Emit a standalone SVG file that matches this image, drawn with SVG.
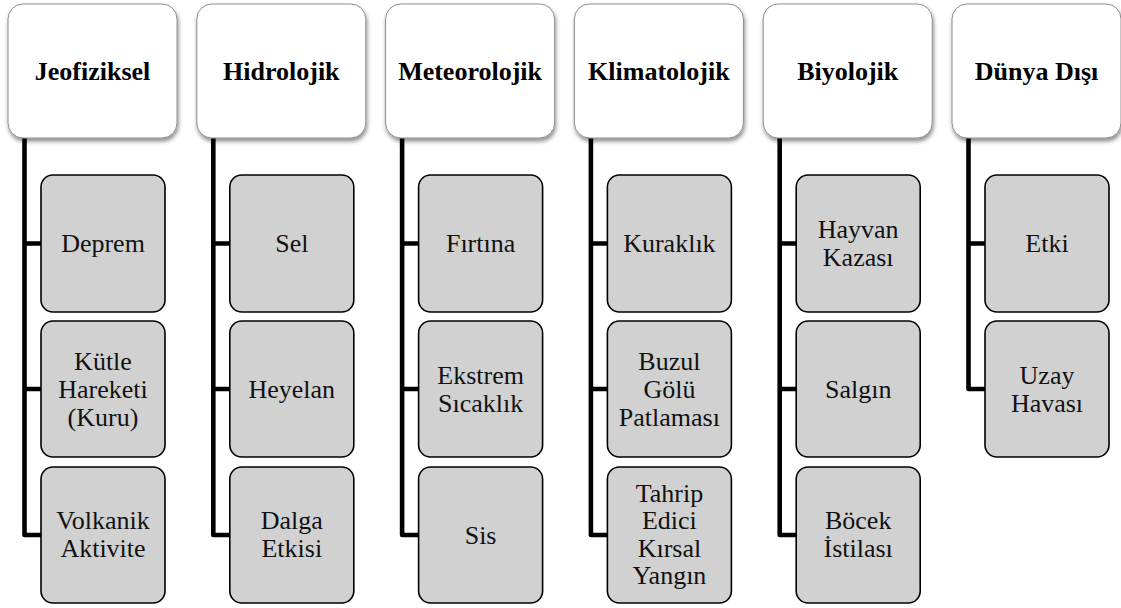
<svg xmlns="http://www.w3.org/2000/svg" width="1121" height="608" viewBox="0 0 1121 608">
<defs>
<filter id="sh" x="-10%" y="-10%" width="125%" height="125%">
<feDropShadow dx="1" dy="3" stdDeviation="2" flood-color="#000" flood-opacity="0.45"/>
</filter>
<style>
.top{fill:#fff;stroke:#8c8c8c;stroke-width:1;filter:url(#sh)}
.ch{fill:#d1d1d1;stroke:#000;stroke-width:1.6}
text{font-family:'Liberation Serif','Tinos','Times New Roman','Times','Nimbus Roman','FreeSerif','Noto Serif','DejaVu Serif',serif}
.tt{font-weight:bold;font-size:26px;text-anchor:middle;fill:#000}
.ct{font-size:26px;text-anchor:middle;fill:#111}
.ln{fill:none;stroke:#000;stroke-width:4.6;stroke-linejoin:round}
</style>
</defs>
<rect width="1121" height="608" fill="#fff"/>
<g id="connectors">
<path class="ln" d="M24.5 138 V535 H41 M24.5 243.5 H41 M24.5 389 H41"/>
<path class="ln" d="M213.3 138 V535 H229.8 M213.3 243.5 H229.8 M213.3 389 H229.8"/>
<path class="ln" d="M402.1 138 V535 H418.6 M402.1 243.5 H418.6 M402.1 389 H418.6"/>
<path class="ln" d="M590.9 138 V535 H607.4 M590.9 243.5 H607.4 M590.9 389 H607.4"/>
<path class="ln" d="M779.7 138 V535 H796.2 M779.7 243.5 H796.2 M779.7 389 H796.2"/>
<path class="ln" d="M968.5 138 V389 H985 M968.5 243.5 H985"/>
</g>
<g id="n-jeofiziksel"><rect class="top" x="8" y="4" width="169" height="134" rx="15"/><text class="tt" x="92.5" y="80" font-family="Liberation Serif">Jeofiziksel</text></g>
<g id="n-hidrolojik"><rect class="top" x="196.8" y="4" width="169" height="134" rx="15"/><text class="tt" x="281.3" y="80" font-family="Liberation Serif">Hidrolojik</text></g>
<g id="n-meteorolojik"><rect class="top" x="385.6" y="4" width="169" height="134" rx="15"/><text class="tt" x="470.1" y="80" font-family="Liberation Serif">Meteorolojik</text></g>
<g id="n-klimatolojik"><rect class="top" x="574.4" y="4" width="169" height="134" rx="15"/><text class="tt" x="658.9" y="80" font-family="Liberation Serif">Klimatolojik</text></g>
<g id="n-biyolojik"><rect class="top" x="763.2" y="4" width="169" height="134" rx="15"/><text class="tt" x="847.7" y="80" font-family="Liberation Serif">Biyolojik</text></g>
<g id="n-dunyadisi"><rect class="top" x="952" y="4" width="169" height="134" rx="15"/><text class="tt" x="1036.5" y="80" font-family="Liberation Serif">Dünya Dışı</text></g>

<g id="n-deprem"><rect class="ch" x="41" y="175" width="124" height="137" rx="12"/><text class="ct" x="103" y="252">Deprem</text></g>
<g id="n-kutle"><rect class="ch" x="41" y="321" width="124" height="136" rx="12"/><text class="ct"><tspan x="103" y="370">Kütle</tspan><tspan x="103" y="398">Hareketi</tspan><tspan x="103" y="426">(Kuru)</tspan></text></g>
<g id="n-volkanik"><rect class="ch" x="41" y="467" width="124" height="136" rx="12"/><text class="ct"><tspan x="103" y="529">Volkanik</tspan><tspan x="103" y="557">Aktivite</tspan></text></g>

<g id="n-sel"><rect class="ch" x="229.8" y="175" width="124" height="137" rx="12"/><text class="ct" x="291.8" y="252">Sel</text></g>
<g id="n-heyelan"><rect class="ch" x="229.8" y="321" width="124" height="136" rx="12"/><text class="ct" x="291.8" y="397.5">Heyelan</text></g>
<g id="n-dalga"><rect class="ch" x="229.8" y="467" width="124" height="136" rx="12"/><text class="ct"><tspan x="291.8" y="529">Dalga</tspan><tspan x="291.8" y="557">Etkisi</tspan></text></g>

<g id="n-firtina"><rect class="ch" x="418.6" y="175" width="124" height="137" rx="12"/><text class="ct" x="480.6" y="252">Fırtına</text></g>
<g id="n-ekstrem"><rect class="ch" x="418.6" y="321" width="124" height="136" rx="12"/><text class="ct"><tspan x="480.6" y="383.5">Ekstrem</tspan><tspan x="480.6" y="411.5">Sıcaklık</tspan></text></g>
<g id="n-sis"><rect class="ch" x="418.6" y="467" width="124" height="136" rx="12"/><text class="ct" x="480.6" y="543.5">Sis</text></g>

<g id="n-kuraklik"><rect class="ch" x="607.4" y="175" width="124" height="137" rx="12"/><text class="ct" x="669.4" y="252">Kuraklık</text></g>
<g id="n-buzul"><rect class="ch" x="607.4" y="321" width="124" height="136" rx="12"/><text class="ct"><tspan x="669.4" y="370">Buzul</tspan><tspan x="669.4" y="398">Gölü</tspan><tspan x="669.4" y="426">Patlaması</tspan></text></g>
<g id="n-tahrip"><rect class="ch" x="607.4" y="467" width="124" height="136" rx="12"/><text class="ct"><tspan x="669.4" y="502">Tahrip</tspan><tspan x="669.4" y="529.3">Edici</tspan><tspan x="669.4" y="556.6">Kırsal</tspan><tspan x="669.4" y="584">Yangın</tspan></text></g>

<g id="n-hayvan"><rect class="ch" x="796.2" y="175" width="124" height="137" rx="12"/><text class="ct"><tspan x="858.2" y="238">Hayvan</tspan><tspan x="858.2" y="266">Kazası</tspan></text></g>
<g id="n-salgin"><rect class="ch" x="796.2" y="321" width="124" height="136" rx="12"/><text class="ct" x="858.2" y="397.5">Salgın</text></g>
<g id="n-bocek"><rect class="ch" x="796.2" y="467" width="124" height="136" rx="12"/><text class="ct"><tspan x="858.2" y="529">Böcek</tspan><tspan x="858.2" y="557">İstilası</tspan></text></g>

<g id="n-etki"><rect class="ch" x="985" y="175" width="124" height="137" rx="12"/><text class="ct" x="1047" y="252">Etki</text></g>
<g id="n-uzay"><rect class="ch" x="985" y="321" width="124" height="136" rx="12"/><text class="ct"><tspan x="1047" y="383.5">Uzay</tspan><tspan x="1047" y="411.5">Havası</tspan></text></g>
</svg>
